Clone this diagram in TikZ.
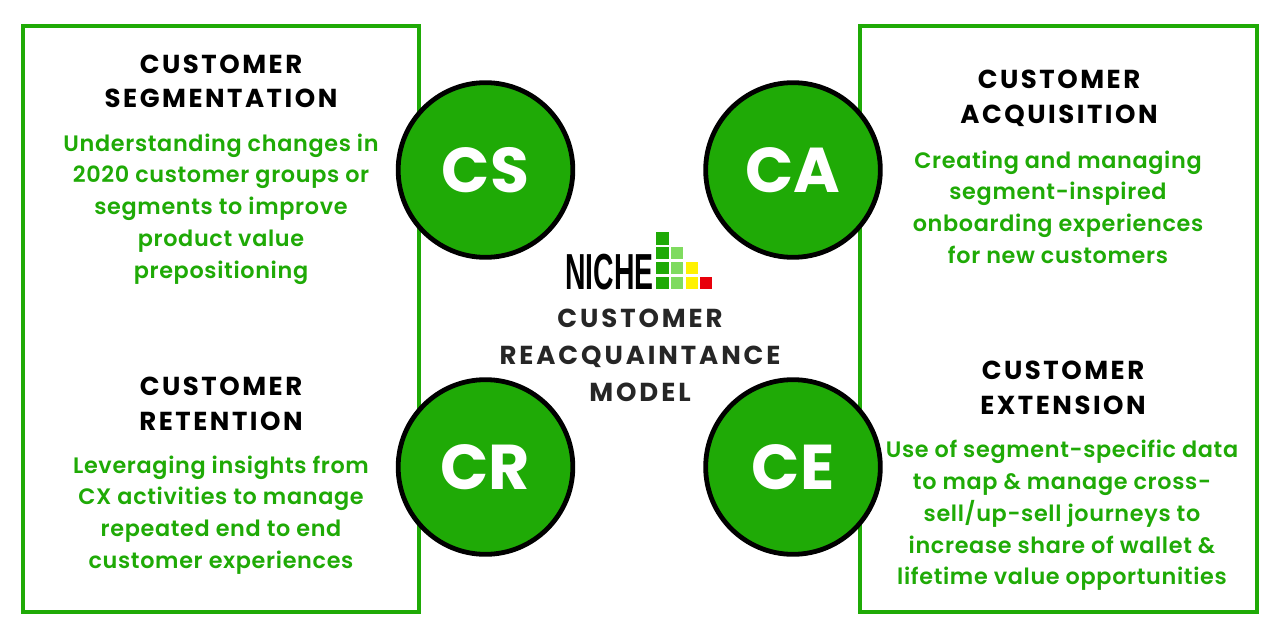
\documentclass[tikz,border=0pt]{standalone}
\usepackage{fontspec}
\setmainfont{Poppins}
\newfontfamily\blurbfont{Poppins}[UprightFont=* SemiBold, LetterSpace=3]
\newfontfamily\logofont{Liberation Sans}
\definecolor{nichegreen}{HTML}{1FAA06}
\definecolor{nichelight}{HTML}{7FDB5F}
\definecolor{nicheyellow}{HTML}{FFF200}
\definecolor{nichered}{HTML}{E8000B}
\tikzset{
  panel/.style={draw=nichegreen, line width=3.6pt, fill=white},
  badge/.style={circle, draw=black, line width=3.6pt, fill=nichegreen, minimum size=131pt, inner sep=0pt, text=white, font=\fontsize{47.5}{47.5}\selectfont\bfseries},
  heading/.style={align=center, text=black, font=\fontsize{19.5}{26}\selectfont\bfseries\addfontfeature{LetterSpace=9.7}},
  blurb/.style={align=center, text=nichegreen, font=\fontsize{16.75}{23.8}\selectfont\blurbfont},
  titletext/.style={align=center, text=black!85, font=\fontsize{19.5}{27.7}\selectfont\bfseries\addfontfeature{LetterSpace=11.2}},
  cell/.style={minimum size=9.3pt, inner sep=0pt}
}
\begin{document}
\begin{tikzpicture}[x=0.75pt, y=-0.75pt]
  \useasboundingbox (0, 0) rectangle (1280, 639);
  \draw[panel] (23, 26) rectangle (419, 612);
  \draw[panel] (860, 26) rectangle (1257, 612);

  \node[badge] (cs) at (485.5, 170) {CS};
  \node[badge] (ca) at (793, 170) {CA};
  \node[badge] (cr) at (485.5, 467) {CR};
  \node[badge] (ce) at (793, 467) {CE};

  \node[heading] (cshead) at (221, 81.5) {CUSTOMER\\SEGMENTATION};
  \node[blurb] (csbody) at (221, 209) {Understanding changes in\\2020 customer groups or\\segments to improve\\product value\\prepositioning};
  \node[heading] (cahead) at (1059, 98) {CUSTOMER\\ACQUISITION};
  \node[blurb] (cabody) at (1058, 207) {Creating and managing\\segment-inspired\\onboarding experiences\\for new customers};
  \node[heading] (crhead) at (221, 403.5) {CUSTOMER\\RETENTION};
  \node[blurb] (crbody) at (221, 515) {Leveraging insights from\\CX activities to manage\\repeated end to end\\customer experiences};
  \node[heading] (cehead) at (1063, 387.5) {CUSTOMER\\EXTENSION};
  \node[blurb] (cebody) at (1062, 515.5) {Use of segment-specific data\\to map \& manage cross-\\sell/up-sell journeys to\\increase share of wallet \&\\lifetime value opportunities};

  \node[titletext] (title) at (640, 355) {CUSTOMER\\REACQUAINTANCE\\MODEL};

  % logo
  \node[xscale=0.56, inner sep=0pt, anchor=base] (logo) at (609.5, 289) {\logofont\fontsize{38}{38}\selectfont\bfseries NICHE};
  \foreach \y in {238.5, 253, 268, 283}
    \node[cell, fill=nichegreen] (bar1) at (662.5, \y) {};
  \foreach \y in {253, 268, 283}
    \node[cell, fill=nichelight] (bar2) at (677, \y) {};
  \foreach \y in {268, 283}
    \node[cell, fill=nicheyellow] (bar3) at (692, \y) {};
  \node[cell, fill=nichered] (bar4) at (706, 283) {};
\end{tikzpicture}
\end{document}
